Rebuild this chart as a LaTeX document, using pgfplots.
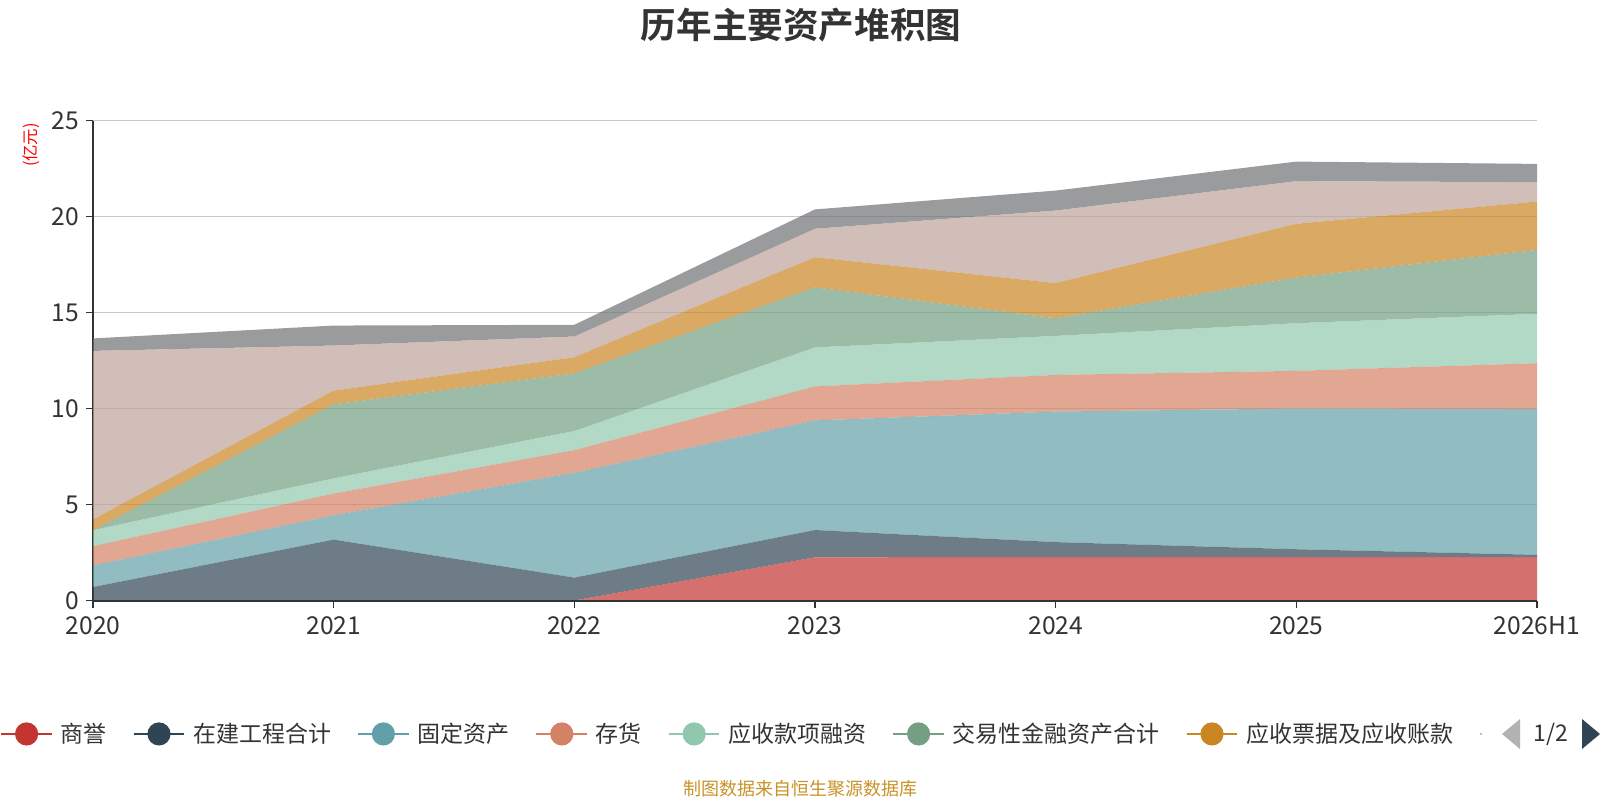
\documentclass[border=0pt]{standalone}
\usepackage{fontspec}
\setmainfont{Noto Sans CJK SC}[BoldFont={* Bold}]
\usepackage{pgfplots}
\pgfplotsset{compat=1.18}
\definecolor{c1}{HTML}{C23531}
\definecolor{c2}{HTML}{2F4554}
\definecolor{c3}{HTML}{61A0A8}
\definecolor{c4}{HTML}{D48265}
\definecolor{c5}{HTML}{91C7AE}
\definecolor{c6}{HTML}{749F83}
\definecolor{c7}{HTML}{CA8622}
\definecolor{c8}{HTML}{BDA29A}
\definecolor{c9}{HTML}{6E7074}
\definecolor{axisgray}{HTML}{333333}
\definecolor{gridgray}{HTML}{C8C8C8}
\definecolor{labelgray}{HTML}{333333}
\definecolor{srcgold}{RGB}{200,146,40}
\pgfplotsset{myleg/.style={legend image code/.code={\draw[#1,line width=0.9pt,opacity=1](0pt,0pt)--(25.3pt,0pt);\fill[#1,opacity=1](12.65pt,0pt) circle(5.8pt);}}}
\begin{document}
\begin{tikzpicture}
\begin{axis}[
  at={(46.5pt,99.75pt)}, anchor=south west, scale only axis,
  width=722pt, height=240pt,
  xmin=0, xmax=6, ymin=0, ymax=25,
  stack plots=y,
  axis x line*=bottom, axis y line*=left,
  axis line style={draw=axisgray, line width=0.6pt},
  ytick={0,5,...,25}, xtick={0,1,2,3,4,5,6},
  xticklabels={2020,2021,2022,2023,2024,2025,2026H1},
  tick align=outside, major tick length=3.5pt,
  tick style={draw=axisgray, line width=0.6pt},
  ymajorgrids, grid style={draw=gridgray, line width=0.55pt},
  ticklabel style={font=\fontsize{12.3}{14}\selectfont, text=labelgray},
  xticklabel style={yshift=-1pt},
  /pgf/number format/assume math mode=true,
  legend style={at={(axis description cs:-0.0644,-0.278)}, anchor=west,
    draw=none, fill=none, inner sep=0pt,
    font=\fontsize{11.5}{13}\selectfont, text=labelgray,
    /tikz/every odd column/.append style={column sep=2pt},
    /tikz/every even column/.append style={column sep=11pt}},
  legend columns=-1, legend cell align=left,
]
\addplot[fill=c1, draw=none, fill opacity=0.7, myleg=c1] coordinates {(0,0)(1,0)(2,0)(3,2.25)(4,2.26)(5,2.26)(6,2.26)} \closedcycle;
\addlegendentry{商誉}
\addplot[fill=c2, draw=none, fill opacity=0.7, myleg=c2] coordinates {(0,0.70)(1,3.17)(2,1.19)(3,1.42)(4,0.78)(5,0.41)(6,0.12)} \closedcycle;
\addlegendentry{在建工程合计}
\addplot[fill=c3, draw=none, fill opacity=0.7, myleg=c3] coordinates {(0,1.13)(1,1.27)(2,5.46)(3,5.71)(4,6.80)(5,7.33)(6,7.59)} \closedcycle;
\addlegendentry{固定资产}
\addplot[fill=c4, draw=none, fill opacity=0.7, myleg=c4] coordinates {(0,1.00)(1,1.13)(2,1.18)(3,1.77)(4,1.91)(5,1.96)(6,2.39)} \closedcycle;
\addlegendentry{存货}
\addplot[fill=c5, draw=none, fill opacity=0.7, myleg=c5] coordinates {(0,0.83)(1,0.79)(2,1.00)(3,2.03)(4,2.03)(5,2.48)(6,2.57)} \closedcycle;
\addlegendentry{应收款项融资}
\addplot[fill=c6, draw=none, fill opacity=0.7, myleg=c6] coordinates {(0,0.00)(1,3.86)(2,3.00)(3,3.13)(4,0.92)(5,2.38)(6,3.33)} \closedcycle;
\addlegendentry{交易性金融资产合计}
\addplot[fill=c7, draw=none, fill opacity=0.7, myleg=c7] coordinates {(0,0.56)(1,0.71)(2,0.84)(3,1.57)(4,1.83)(5,2.80)(6,2.52)} \closedcycle;
\addlegendentry{应收票据及应收账款}
\addplot[fill=c8, draw=none, fill opacity=0.7] coordinates {(0,8.78)(1,2.35)(2,1.08)(3,1.48)(4,3.78)(5,2.22)(6,1.01)} \closedcycle;
\addplot[fill=c9, draw=none, fill opacity=0.7] coordinates {(0,0.65)(1,1.04)(2,0.61)(3,1.01)(4,1.04)(5,1.02)(6,0.95)} \closedcycle;
\end{axis}
\draw[axisgray, line width=1pt] (46.5pt,99.75pt) -- (768.5pt,99.75pt);
\node[font=\fontsize{17.8}{20}\selectfont\bfseries, text=labelgray] at (400.5pt,387.25pt) {历年主要资产堆积图};
\node[font=\fontsize{8.2}{9}\selectfont, text=red, rotate=90] at (15.8pt,327.5pt) {(亿元)};
\node[font=\fontsize{9}{10}\selectfont, text=srcgold] at (400pt,5.5pt) {制图数据来自恒生聚源数据库};
\fill[c8] (740.5pt,33pt) circle (0.6pt);
\fill[gray!60] (751pt,33pt) -- (760pt,40.5pt) -- (760pt,25.5pt) -- cycle;
\node[font=\fontsize{11.5}{13}\selectfont, text=labelgray] at (775.25pt,33pt) {1/2};
\fill[c2] (800pt,33pt) -- (791pt,40.5pt) -- (791pt,25.5pt) -- cycle;
\pgfresetboundingbox
\useasboundingbox (0pt,0pt) rectangle (800pt,400pt);
\end{tikzpicture}
\end{document}
